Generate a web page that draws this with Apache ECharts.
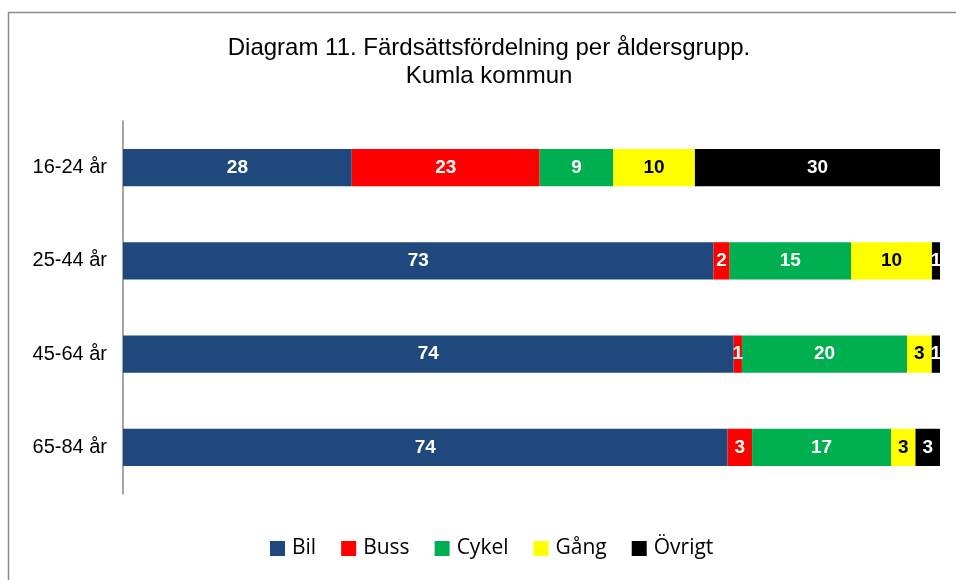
<!DOCTYPE html>
<html>
<head>
<meta charset="utf-8">
<script src="https://cdn.jsdelivr.net/npm/echarts@6/dist/echarts.min.js"></script>
<style>
  html, body { margin: 0; padding: 0; background: #fff; }
  #chart { width: 956px; height: 580px; }
</style>
</head>
<body>
<div id="chart"></div>
<script>
// age groups, top to bottom
var categories = ['16-24 år', '25-44 år', '45-64 år', '65-84 år'];
var seriesNames = ['Bil', 'Buss', 'Cykel', 'Gång', 'Övrigt'];
var bil    = [28, 73, 74, 74];
var buss   = [23, 2, 1, 3];
var cykel  = [9, 15, 20, 17];
var gang   = [10, 10, 3, 3];
var ovrigt = [30, 1, 1, 3];

var colors = ['#1F497D', '#FF0000', '#00B050', '#FFFF00', '#000000'];
var labelColors = ['#fff', '#fff', '#fff', '#000', '#fff'];

var raw = [bil, buss, cykel, gang, ovrigt];

// 100% stacked: each row is scaled to its own total
var totals = categories.map(function (c, i) {
  return raw.reduce(function (s, arr) { return s + arr[i]; }, 0);
});

var series = raw.map(function (arr, k) {
  return {
    name: seriesNames[k],
    type: 'bar',
    stack: 'total',
    barWidth: '40%',
    itemStyle: { color: colors[k] },
    label: {
      show: true,
      position: 'inside',
      color: labelColors[k],
      fontFamily: 'Liberation Sans, Arial, sans-serif',
      fontWeight: 'bold',
      fontSize: 19,
      formatter: function (p) { return arr[p.dataIndex]; }
    },
    data: arr.map(function (v, i) { return v / totals[i] * 100; })
  };
});

var chart = echarts.init(document.getElementById('chart'));
chart.setOption({
  animation: false,
  title: {
    text: 'Diagram 11. Färdsättsfördelning per åldersgrupp.\nKumla kommun',
    left: 489,
    top: 34,
    padding: 0,
    textAlign: 'center',
    textStyle: {
      fontFamily: 'Liberation Sans, Arial, sans-serif',
      fontWeight: 'normal',
      fontSize: 24,
      lineHeight: 28,
      color: '#000'
    }
  },
  graphic: [{
    type: 'rect',
    shape: { x: 8.5, y: 12.5, width: 1000, height: 700 },
    style: { fill: 'none', stroke: '#8c8c8c', lineWidth: 1.5 },
    silent: true
  }],
  legend: {
    top: 538,
    left: 270,
    padding: 0,
    itemWidth: 15,
    itemHeight: 15,
    itemGap: 25,
    icon: 'rect',
    textStyle: {
      fontFamily: 'Open Sans, Noto Sans, sans-serif',
      fontSize: 21,
      padding: [0, 0, 0, 2],
      color: '#000'
    },
    data: seriesNames
  },
  grid: { left: 123, right: 16, top: 121, bottom: 86, containLabel: false },
  xAxis: {
    type: 'value',
    min: 0,
    max: 100,
    show: false
  },
  yAxis: {
    type: 'category',
    inverse: true,
    data: categories,
    axisLine: { lineStyle: { color: '#888', width: 1.5 } },
    axisTick: { show: false },
    axisLabel: {
      margin: 16,
      fontFamily: 'Liberation Sans, Arial, sans-serif',
      fontSize: 20,
      color: '#000'
    }
  },
  series: series
});
</script>
</body>
</html>
